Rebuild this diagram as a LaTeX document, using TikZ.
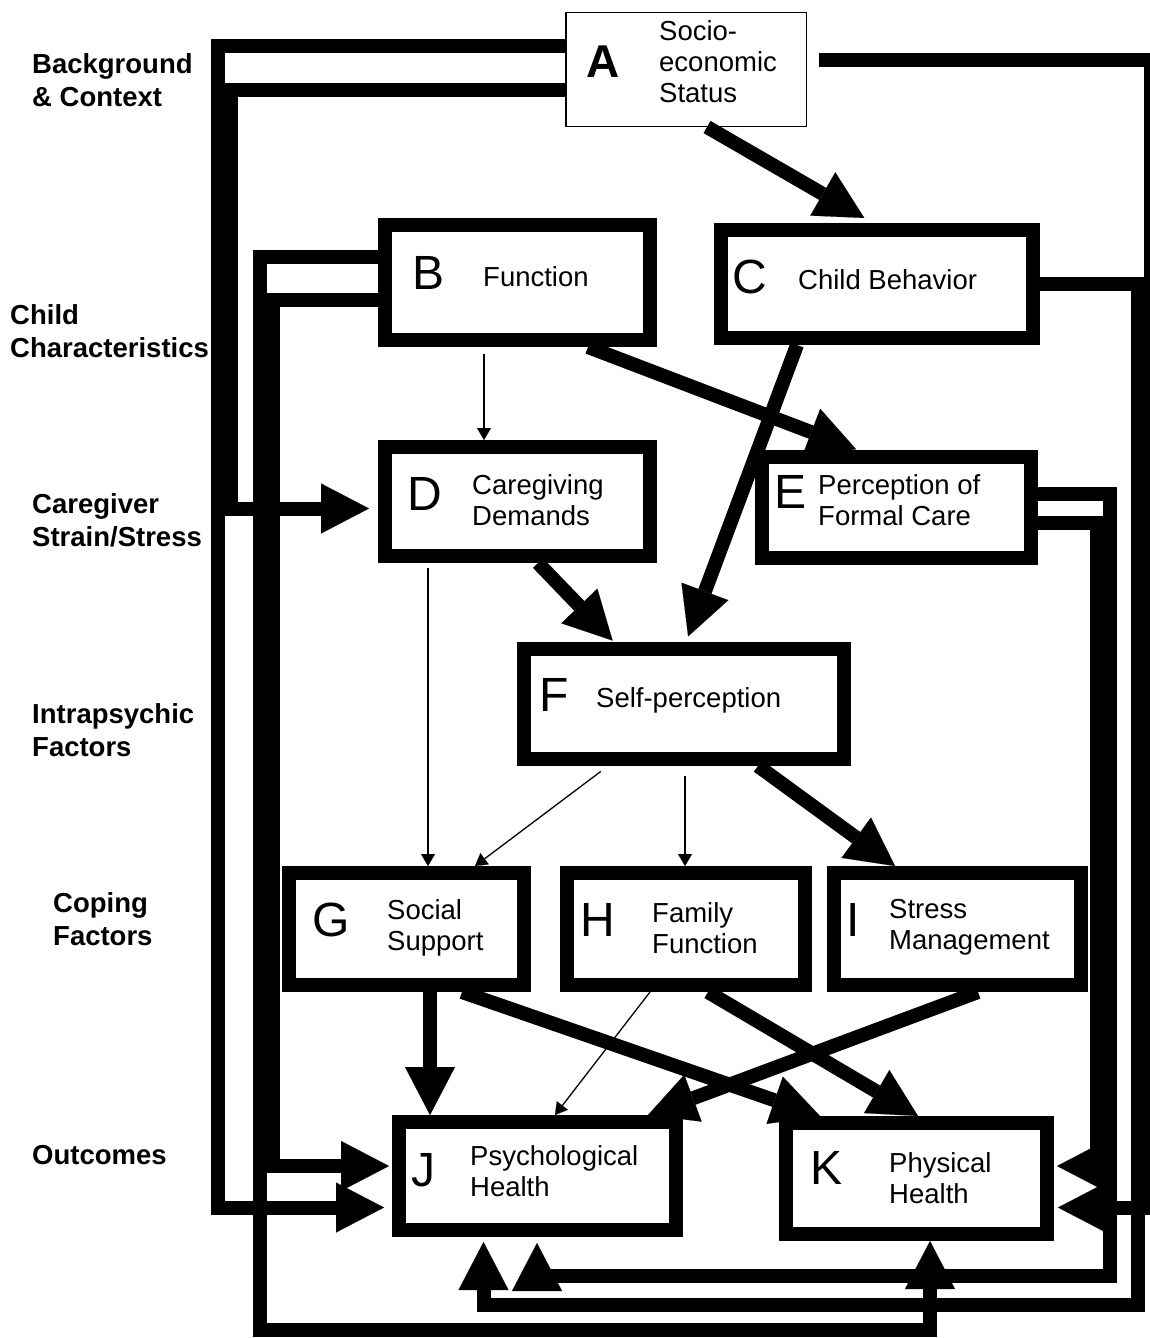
\documentclass[tikz,border=0pt]{standalone}
\usepackage{fontspec}
\setmainfont{Liberation Sans}
\usetikzlibrary{arrows.meta}
\newcommand\bxfont{\fontsize{27.5}{31}\selectfont}
\newcommand\lblfont{\fontsize{27.5}{33}\selectfont\bfseries}
\newcommand\bigfont{\fontsize{48}{50}\selectfont}
\begin{document}
\begin{tikzpicture}[x=1pt,y=-1pt,line join=miter,
  bx/.style={draw, line width=14pt, outer sep=7pt, inner sep=0pt},
  thinbx/.style={draw, line width=1.5pt, outer sep=0.75pt, inner sep=0pt},
  txt/.style={inner sep=0pt, anchor=west, align=left, font=\bxfont},
  letter/.style={inner sep=0pt, font=\bigfont},
  lbl/.style={inner sep=0pt, anchor=west, align=left, font=\lblfont},
  thickarrow/.style={line width=14pt, -{Triangle[length=48pt,width=50pt,line width=0.1pt]}},
  thickline/.style={line width=14pt},
  thinarrow/.style={line width=1.3pt, -{Triangle[length=12pt,width=14pt,line width=0.1pt]}}]
\useasboundingbox (0,0) rectangle (1149,1338);

% boxes
\node[thinbx, minimum width=240.5pt, minimum height=113.5pt] (A) at (686,69.5) {};
\node[bx, minimum width=265pt, minimum height=115pt] (B) at (517.5,282.5) {};
\node[bx, minimum width=312pt, minimum height=108pt] (C) at (877,284) {};
\node[bx, minimum width=265pt, minimum height=109pt] (D) at (517.5,501.5) {};
\node[bx, minimum width=269pt, minimum height=101pt] (E) at (896.5,507.5) {};
\node[bx, minimum width=320pt, minimum height=110pt] (F) at (684,704) {};
\node[bx, minimum width=235pt, minimum height=112pt] (G) at (406.5,929) {};
\node[bx, minimum width=238pt, minimum height=112pt] (H) at (686,929) {};
\node[bx, minimum width=247pt, minimum height=112pt] (I) at (957.5,929) {};
\node[bx, minimum width=277pt, minimum height=108pt] (J) at (537.5,1176) {};
\node[bx, minimum width=261pt, minimum height=111pt] (K) at (916.5,1178.5) {};

% letters and texts
\node[letter, font=\fontsize{46}{48}\selectfont\bfseries] (lA) at (603.5,61.5) {A};
\node[txt] (tA) at (659,62) {Socio-\\economic\\Status};
\node[letter] (lB) at (428.5,272.5) {B};
\node[txt] (tB) at (483,277) {Function};
\node[letter] (lC) at (750,277) {C};
\node[txt] (tC) at (798,280) {Child Behavior};
\node[letter] (lD) at (425,494) {D};
\node[txt] (tD) at (472,500) {Caregiving\\Demands};
\node[letter] (lE) at (790,492) {E};
\node[txt] (tE) at (818,500) {Perception of\\Formal Care};
\node[letter] (lF) at (554,695) {F};
\node[txt] (tF) at (596,700) {Self-perception};
\node[letter] (lG) at (331,920) {G};
\node[txt] (tG) at (387,928) {Social\\Support};
\node[letter] (lH) at (598,920) {H};
\node[txt] (tH) at (652,928) {Family\\Function};
\node[letter] (lI) at (853,920) {I};
\node[txt] (tI) at (889,927) {Stress\\Management};
\node[letter] (lJ) at (423,1170) {J};
\node[txt] (tJ) at (470,1171) {Psychological\\Health};
\node[letter] (lK) at (826,1168) {K};
\node[txt] (tK) at (889,1178) {Physical\\Health};

% left labels
\node[lbl] (L1) at (32,80) {Background\\\& Context};
\node[lbl] (L2) at (10,331) {Child\\Characteristics};
\node[lbl] (L3) at (32,520) {Caregiver\\Strain/Stress};
\node[lbl] (L4) at (32,730) {Intrapsychic\\Factors};
\node[lbl] (L5) at (53,919) {Coping\\Factors};
\node[lbl] (L6) at (32,1155) {Outcomes};

% routed connectors
\draw[thickarrow, shorten >=8pt] (A.west |- 0,46.5) -| (218,1207.5) -- (J.west |- 0,1207.5);
\draw[thickarrow, shorten >=9pt] (A.west |- 0,89.5) -| (230.5,508.5) -- (D.west |- 0,508.5);
\draw[thickarrow, shorten <=12pt, shorten >=4pt] (A.east |- 0,60.5) -| (1151,1207.5) -- (K.east |- 0,1207.5);
\draw[thickarrow] (B.west |- 0,256.5) -| (260,1330) -| (K.south -| 930,0);
\draw[thickarrow, shorten >=3pt] (B.west |- 0,299.5) -| (273,1166) -- (J.west |- 0,1166);
\draw[thickarrow, shorten >=5pt] (C.east |- 0,284) -| (1138,1305) -| (J.south -| 483.5,0);
\draw[thickarrow, shorten >=6pt] (E.east |- 0,493.5) -| (1110,1276) -| (J.south -| 537,0);
\draw[thickarrow, shorten >=3pt] (E.east |- 0,523) -| (1096.5,1166) -- (K.east |- 0,1166);

% direct connectors
\draw[thickarrow, shorten >=10pt] (A.south -| 707,0) -- (C.north -| 873,0);
\draw[thinarrow, shorten <=7pt] (B.south -| 484,0) -- (D.north -| 484,0);
\draw[thickarrow, shorten >=2pt] (B.south -| 588,0) -- (E.north -| 858,0);
\draw[thickarrow, shorten >=6pt] (C.south -| 797,0) -- (F.north -| 686,0);
\draw[thickarrow, shorten >=2pt] (D.south -| 538,0) -- (F.north -| 614,0);
\draw[thinarrow, shorten <=5pt] (D.south -| 428,0) -- (G.north -| 428,0);
\draw[thinarrow, shorten <=9pt] (F.south -| 608,0) -- (G.north -| 475,0);
\draw[thinarrow, shorten <=10pt] (F.south -| 685,0) -- (H.north -| 685,0);
\draw[thickarrow] (F.south -| 758,0) -- (I.north -| 895,0);
\draw[thickarrow] (G.south -| 430,0) -- (J.north -| 430,0);
\draw[thickarrow] (G.south -| 462,0) -- (K.north -| 820,0);
\draw[thinarrow] (H.south -| 650,0) -- (J.north -| 555,0);
\draw[thickarrow] (H.south -| 708,0) -- (K.north -| 918,0);
\draw[thickarrow] (I.south -| 978,0) -- (J.north -| 648,0);
\end{tikzpicture}
\end{document}
